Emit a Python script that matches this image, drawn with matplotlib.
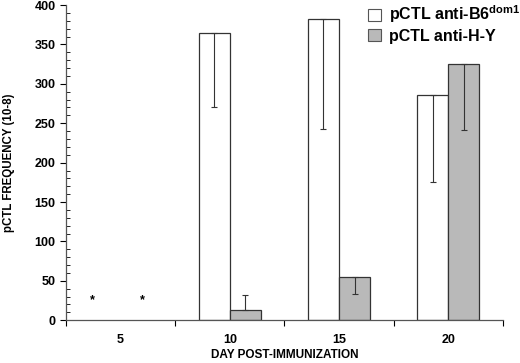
import matplotlib
matplotlib.use("Agg")
import matplotlib.pyplot as plt
import numpy as np
from matplotlib.patches import Patch
from matplotlib.ticker import MultipleLocator, FixedLocator

plt.rcParams['font.family'] = ['Liberation Sans', 'DejaVu Sans']
plt.rcParams['font.weight'] = 'bold'

days = ["5", "10", "15", "20"]
b6_vals = [0, 365, 382, 286]
b6_err_low = [0, 94, 139, 110]
hy_vals = [0, 13, 55, 325]
hy_err_low = [0, 0, 22, 84]
hy_err_high = [0, 19, 0, 0]
star_y = 25

b6_label = 'pCTL anti-B6$^{\\mathregular{dom1}}$'
hy_label = 'pCTL anti-H-Y'
gray = '#b9b9b9'
edge = '#333333'

fig = plt.figure(figsize=(5.2, 3.63), dpi=100)
ax = fig.add_axes([0.127, 0.118, 0.84, 0.868])

x = np.arange(len(days))
w = 0.285

# no outline for empty bars (day 5)
b6_lw = [0.9 if v > 0 else 0 for v in b6_vals]
hy_lw = [0.9 if v > 0 else 0 for v in hy_vals]

ax.bar(x - w / 2, b6_vals, w, color='white', edgecolor=edge, linewidth=b6_lw)
ax.bar(x + w / 2, hy_vals, w, color=gray, edgecolor=edge, linewidth=hy_lw)
for i in range(1, len(days)):
    ax.errorbar(x[i] - w / 2, b6_vals[i], yerr=[[b6_err_low[i]], [0]], fmt='none',
                ecolor=edge, elinewidth=0.8, capsize=2.5, capthick=0.8)
    ax.errorbar(x[i] + w / 2, hy_vals[i], yerr=[[hy_err_low[i]], [hy_err_high[i]]],
                fmt='none', ecolor=edge, elinewidth=0.8, capsize=2.5, capthick=0.8)

ax.text(x[0] - 0.26, star_y, '*', ha='center', va='center', fontsize=9)
ax.text(x[0] + 0.2, star_y, '*', ha='center', va='center', fontsize=9)

ax.set_xlim(-0.5, len(days) - 0.5)
ax.set_ylim(0, 400)
ax.set_xticks(x)
ax.set_xticklabels(days)
ax.xaxis.set_minor_locator(FixedLocator(np.arange(-0.5, len(days), 1.0)))
ax.tick_params(axis='x', which='major', length=0, pad=10, labelsize=9)
ax.tick_params(axis='x', which='minor', length=4, direction='out', width=0.8)
ax.yaxis.set_major_locator(MultipleLocator(50))
ax.yaxis.set_minor_locator(MultipleLocator(10))
ax.tick_params(axis='y', which='major', length=4, direction='out', width=0.8, labelsize=9)
ax.tick_params(axis='y', which='minor', length=3, direction='in', width=0.6)

for s in ['top', 'right']:
    ax.spines[s].set_visible(False)
for s in ['left', 'bottom']:
    ax.spines[s].set_color('#555555')
    ax.spines[s].set_linewidth(0.9)

ax.set_xlabel('DAY POST-IMMUNIZATION', fontsize=8.5, fontweight='bold', labelpad=2)
ax.set_ylabel('pCTL FREQUENCY (10-8)', fontsize=8.3, fontweight='bold', labelpad=14)

handles = [Patch(facecolor='white', edgecolor='#555555', linewidth=0.8, label=b6_label),
           Patch(facecolor=gray, edgecolor='#555555', linewidth=0.8, label=hy_label)]
ax.legend(handles=handles, loc='upper right', bbox_to_anchor=(1.062, 1.035),
          frameon=False, fontsize=11.5, borderpad=0.1, handlelength=0.8,
          handleheight=0.8, handletextpad=0.5, labelspacing=0.2)

fig.savefig('out.png', dpi=100)
